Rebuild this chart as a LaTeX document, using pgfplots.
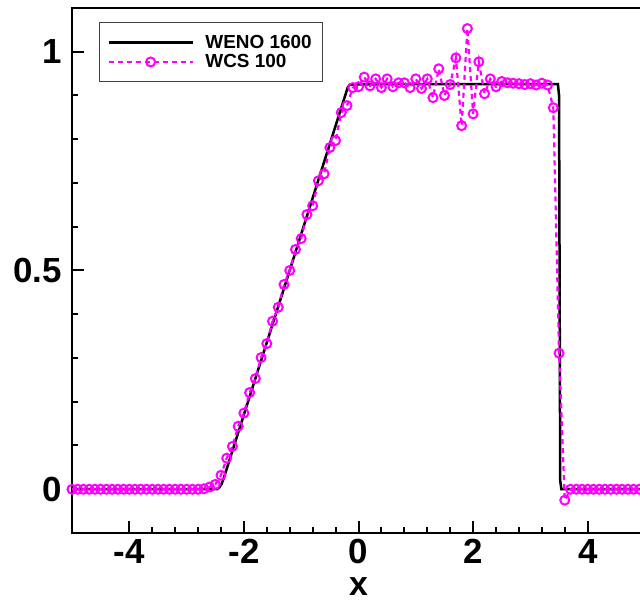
\documentclass[border=0pt]{standalone}
\usepackage{pgfplots}
\pgfplotsset{compat=1.18}
\usepackage{fontspec}
\setmainfont{Liberation Sans}
\definecolor{wcsmag}{RGB}{255,0,255}
\begin{document}
\begin{tikzpicture}
\useasboundingbox (0,0) rectangle (640bp,603bp);
\begin{axis}[
  at={(72bp,70bp)}, anchor=south west,
  width=573bp, height=525bp, scale only axis,
  xmin=-5, xmax=5, ymin=-0.1, ymax=1.1,
  xtick={-4,-2,0,2,4}, xticklabels={-4,-2,0,2,4},
  ytick={0,0.5,1}, yticklabels={0,0.5,1},
  minor x tick num=4, minor y tick num=4,
  tick align=inside, xtick pos=bottom, ytick pos=left,
  major tick length=12bp, minor tick length=6bp,
  axis line style={line width=2.5bp},
  every tick/.style={line width=2bp, black},
  tick label style={font=\fontsize{35}{35}\selectfont\bfseries},
  xticklabel style={inner sep=0pt, anchor=north, yshift=-6bp},
  yticklabel style={inner sep=0pt, anchor=east, xshift=-10bp},
  xlabel={x},
  xlabel style={font=\fontsize{34}{34}\selectfont\bfseries, inner sep=0pt, anchor=north, at={(axis description cs:0.5,0)}, yshift=-44bp},
  legend style={at={(0.0471,0.9733)}, anchor=north west, draw=black!75, line width=0.8bp,
    font=\fontsize{19}{19}\selectfont\bfseries, nodes={inner sep=2.5bp},
    inner xsep=8bp, inner ysep=10bp, column sep=9bp, fill=white},
  legend cell align=left,
  legend image code/.code={\draw[#1, mark repeat=2, mark phase=2] plot coordinates {(0bp,0bp) (42bp,0bp) (84bp,0bp)};},
]
\addplot[black, line width=2.5bp] coordinates {
(-5,0) (-2.47,0) (-2.43,0.004) (-2.39,0.012) (-2.35,0.026)
(-0.22,0.905) (-0.19,0.918) (-0.15,0.925) (0.5,0.926) (3.48,0.926)
(3.50,0.90) (3.52,0.02) (3.54,0) (5,0)
};
\addlegendentry{WENO 1600}
\addplot[wcsmag, line width=2.2bp, dash pattern=on 5bp off 4bp, mark=o, mark size=4.5bp,
  mark options={solid, line width=2bp}] coordinates {
(-5.0,0) (-4.9,0) (-4.8,0) (-4.7,0) (-4.6,0) (-4.5,0) (-4.4,0) (-4.3,0) (-4.2,0) (-4.1,0)
(-4.0,0) (-3.9,0) (-3.8,0) (-3.7,0) (-3.6,0) (-3.5,0) (-3.4,0) (-3.3,0) (-3.2,0) (-3.1,0)
(-3.0,0) (-2.9,0) (-2.8,0) (-2.7,0.001) (-2.6,0.005) (-2.5,0.011) (-2.4,0.032) (-2.3,0.071)
(-2.2,0.098) (-2.1,0.144) (-2.0,0.174) (-1.9,0.221) (-1.8,0.253) (-1.7,0.301) (-1.6,0.333)
(-1.5,0.384) (-1.4,0.416) (-1.3,0.468) (-1.2,0.500) (-1.1,0.548) (-1.0,0.573) (-0.9,0.628)
(-0.8,0.648) (-0.7,0.705) (-0.6,0.721) (-0.5,0.781) (-0.4,0.797) (-0.3,0.861) (-0.2,0.877)
(-0.1,0.918) (0.0,0.920) (0.1,0.942) (0.2,0.922) (0.3,0.938) (0.4,0.918) (0.5,0.938)
(0.6,0.920) (0.7,0.929) (0.8,0.929) (0.9,0.918) (1.0,0.938) (1.1,0.916) (1.2,0.938)
(1.3,0.895) (1.4,0.961) (1.5,0.900) (1.6,0.925) (1.7,0.986) (1.8,0.831) (1.9,1.053)
(2.0,0.858) (2.1,0.977) (2.2,0.904) (2.3,0.938) (2.4,0.920) (2.5,0.932) (2.6,0.929)
(2.7,0.928) (2.8,0.927) (2.9,0.925) (3.0,0.927) (3.1,0.924) (3.2,0.928) (3.3,0.924)
(3.4,0.872) (3.5,0.311) (3.6,-0.025) (3.7,0) (3.8,0) (3.9,0) (4.0,0) (4.1,0) (4.2,0)
(4.3,0) (4.4,0) (4.5,0) (4.6,0) (4.7,0) (4.8,0) (4.9,0) (5.0,0)
};
\addlegendentry{WCS 100}
\end{axis}
\end{tikzpicture}
\end{document}
